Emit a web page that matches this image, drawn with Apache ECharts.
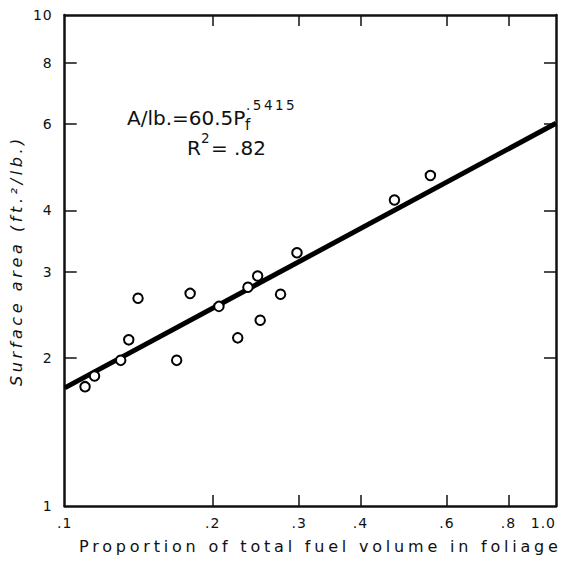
<!DOCTYPE html>
<html>
<head>
<meta charset="utf-8">
<script src="https://cdn.jsdelivr.net/npm/echarts@6/dist/echarts.min.js"></script>
<style>
  html, body { margin: 0; padding: 0; background: #fff; }
  #chart { width: 568px; height: 569px; }
  /* letter spacing by font size (svg renderer writes the font into the style attr) */
  #chart text[style*="16px"] { letter-spacing: 3.8px; }
  #chart text[style*="italic"] { letter-spacing: 3.6px; }
  #chart text[style*="14px"] { letter-spacing: 1px; }
  #chart text[style*="13.5px"] { letter-spacing: 2.5px; }
</style>
</head>
<body>
<div id="chart"></div>
<script>
// proportion of fuel volume in foliage vs surface area
const foliage = [0.110, 0.115, 0.130, 0.135, 0.141, 0.169, 0.180, 0.206, 0.225, 0.236, 0.247, 0.250, 0.275, 0.297, 0.469, 0.555];
const area    = [1.75,  1.84,  1.98,  2.18,  2.65,  1.98,  2.71,  2.55,  2.20,  2.79,  2.94,  2.39,  2.70,  3.28,  4.20,  4.71];

// fitted line end points
const fitX = [0.1, 1.0];
const fitY = [1.74, 6.02];

const xLabelValues = [0.1, 0.2, 0.3, 0.4, 0.6, 0.8, 1.0];
const xLabels = ['.1', '.2', '.3', '.4', '.6', '.8', '1.0'];
const xTickValues = [0.2, 0.3, 0.4, 0.6, 0.8];

const yLabelValues = [1, 2, 3, 4, 6, 8, 10];
const yLabels = ['1', '2', '3', '4', '6', '8', '10'];
const yTickValues = [2, 3, 4, 6, 8];

const FONT = 'DejaVu Sans';
const INK = '#111';

function pick(values, labels) {
    return function (v) {
        const i = values.findIndex(t => Math.abs(t - v) < 1e-6);
        return i >= 0 ? labels[i] : '';
    };
}

const frameLine = { show: true, onZero: false, lineStyle: { color: INK, width: 2.5 } };
const tickStyle = { color: INK, width: 1.5 };

const chart = echarts.init(document.getElementById('chart'), null, { renderer: 'svg' });

const option = {
    animation: false,
    backgroundColor: '#fff',
    grid: { left: 64, right: 12, top: 15, bottom: 63, containLabel: false },
    xAxis: [
        {
            type: 'log', logBase: 10, min: 0.1, max: 1, position: 'bottom',
            axisLine: frameLine,
            axisTick: { show: true, inside: true, length: 11, customValues: xTickValues, lineStyle: tickStyle },
            axisLabel: {
                customValues: xLabelValues, formatter: pick(xLabelValues, xLabels),
                margin: 10, fontSize: 14, color: INK, fontFamily: FONT, alignMaxLabel: 'right'
            },
            splitLine: { show: false },
            name: 'Proportion of total fuel volume in foliage',
            nameLocation: 'middle', nameGap: 32,
            nameTextStyle: { fontSize: 16, color: INK, fontFamily: FONT, padding: [0, 0, 0, 20] }
        },
        {
            type: 'log', logBase: 10, min: 0.1, max: 1, position: 'top',
            axisLine: frameLine,
            axisTick: { show: true, inside: true, length: 11, customValues: xTickValues, lineStyle: tickStyle },
            axisLabel: { show: false },
            splitLine: { show: false }
        }
    ],
    yAxis: [
        {
            type: 'log', logBase: 10, min: 1, max: 10, position: 'left',
            axisLine: frameLine,
            axisTick: { show: true, inside: true, length: 12, customValues: yTickValues, lineStyle: tickStyle },
            axisLabel: {
                customValues: yLabelValues, formatter: pick(yLabelValues, yLabels),
                margin: 12, fontSize: 14, color: INK, fontFamily: FONT
            },
            splitLine: { show: false },
            name: 'Surface area (ft.²/lb.)',
            nameLocation: 'middle', nameGap: 31,
            nameTextStyle: { fontSize: 16, color: INK, fontFamily: FONT, fontStyle: 'italic' }
        },
        {
            type: 'log', logBase: 10, min: 1, max: 10, position: 'right',
            axisLine: frameLine,
            axisTick: { show: true, inside: true, length: 12, customValues: yTickValues, lineStyle: tickStyle },
            axisLabel: { show: false },
            splitLine: { show: false }
        }
    ],
    graphic: [
        { type: 'text', left: 127, top: 108, style: { text: 'A/lb.=60.5P', fontSize: 20, fontFamily: FONT, fill: INK } },
        { type: 'text', left: 245, top: 117, style: { text: 'f', fontSize: 15, fontFamily: FONT, fill: INK } },
        { type: 'text', left: 246, top: 98, style: { text: '.5415', fontSize: 13.5, fontFamily: FONT, fill: INK } },
        { type: 'text', left: 187, top: 138, style: { text: 'R', fontSize: 20, fontFamily: FONT, fill: INK } },
        { type: 'text', left: 201, top: 131, style: { text: '2', fontSize: 13.5, fontFamily: FONT, fill: INK } },
        { type: 'text', left: 211, top: 138, style: { text: '= .82', fontSize: 20, fontFamily: FONT, fill: INK } }
    ],
    series: [
        {
            type: 'line',
            data: fitX.map((x, i) => [x, fitY[i]]),
            showSymbol: false,
            lineStyle: { color: '#000', width: 5 },
            z: 2,
            silent: true
        },
        {
            type: 'scatter',
            data: foliage.map((x, i) => [x, area[i]]),
            symbol: 'circle',
            symbolSize: 9.5,
            itemStyle: { color: '#fff', borderColor: '#000', borderWidth: 2, opacity: 1 },
            z: 3
        }
    ]
};

chart.setOption(option);
</script>
</body>
</html>
